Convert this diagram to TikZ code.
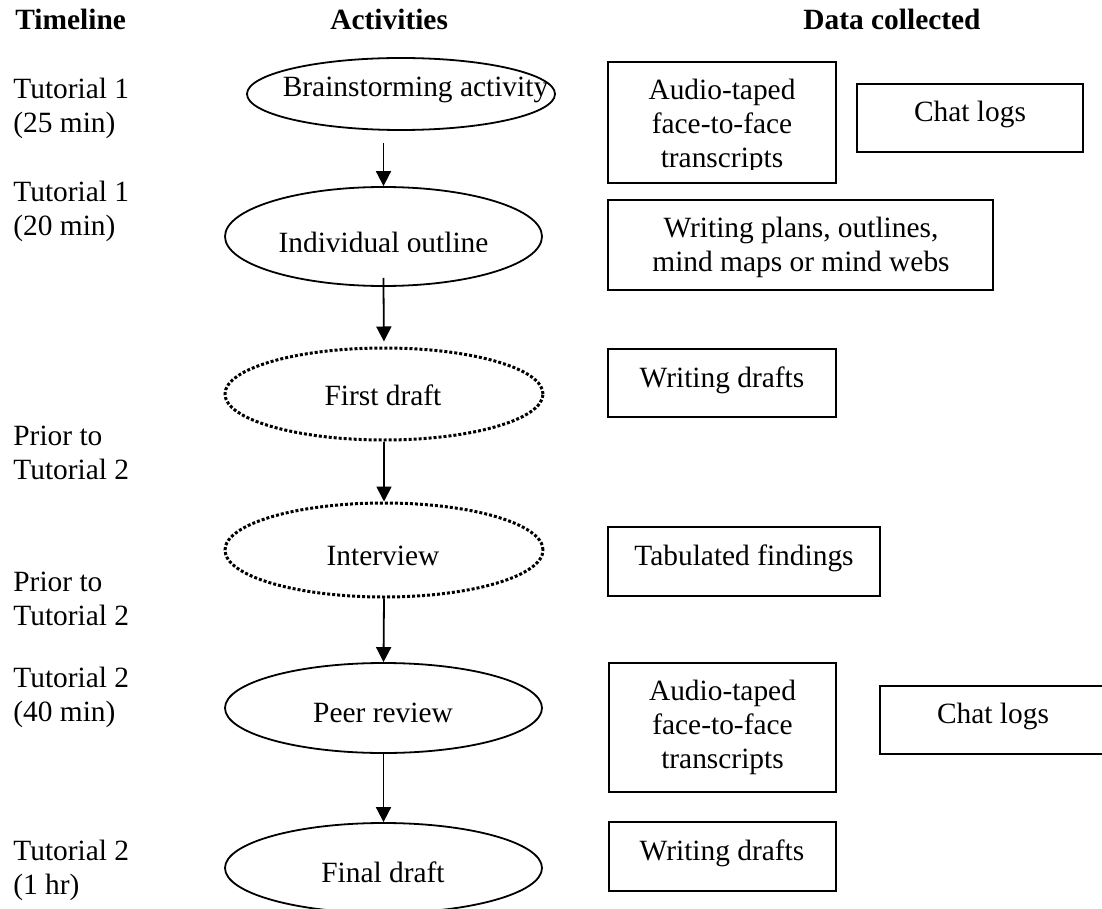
\documentclass[tikz,border=0pt]{standalone}
\usepackage{fontspec}
\setmainfont{Liberation Serif}
\usetikzlibrary{shapes.geometric,arrows.meta}

% stacked lines: first line's baseline is the node's baseline
\newcommand\stackL[1]{\begin{tabular}[t]{@{}l@{}}#1\end{tabular}}
\newcommand\stackC[1]{\begin{tabular}[t]{@{}c@{}}#1\end{tabular}}

\begin{document}
\begin{tikzpicture}[x=0.5pt,y=-0.5pt,
  every node/.style={font=\fontsize{14.7}{17}\selectfont},
  txt/.style={anchor=base, inner sep=0pt},
  ltxt/.style={anchor=base west, inner sep=0pt},
  head/.style={anchor=base west, inner sep=0pt, font=\fontsize{14.7}{17}\selectfont\bfseries},
  activity/.style={ellipse, draw, line width=0.9pt, inner sep=0pt},
  planned/.style={ellipse, draw, line width=1.5pt, dash pattern=on 1.5pt off 1pt, inner sep=0pt},
  databox/.style={rectangle, draw, line width=0.9pt, inner sep=0pt},
  flow/.style={line width=0.9pt, -{Triangle[length=7.5pt,width=7.5pt]}},
]
\useasboundingbox (0,0) rectangle (1102,909);
\clip (0,0) rectangle (1102,909);
\fill[white] (0,0) rectangle (1102,909);

% column headings
\node[head] (hTime) at (15,30) {Timeline};
\node[head] (hAct)  at (330,30) {Activities};
\node[head] (hData) at (803,30) {Data collected};

% timeline
\node[ltxt] (l1) at (13,99)  {\stackL{Tutorial 1\\(25 min)}};
\node[ltxt] (l2) at (13,202) {\stackL{Tutorial 1\\(20 min)}};
\node[ltxt] (l3) at (13,445) {\stackL{Prior to\\Tutorial 2}};
\node[ltxt] (l4) at (13,591) {\stackL{Prior to\\Tutorial 2}};
\node[ltxt] (l5) at (13,687) {\stackL{Tutorial 2\\(40 min)}};
\node[ltxt] (l6) at (13,860) {\stackL{Tutorial 2\\(1 hr)}};

% activities
\node[activity, minimum width=154pt,   minimum height=36pt]   (e1) at (401,94) {};
\node[activity, minimum width=158.5pt, minimum height=49.5pt] (e2) at (383.5,236.5) {};
\node[planned,  minimum width=159pt,   minimum height=46pt]   (e3) at (384,394) {};
\node[planned,  minimum width=159pt,   minimum height=47pt]   (e4) at (384,550) {};
\node[activity, minimum width=158.5pt, minimum height=45pt]   (e5) at (383.5,708) {};
\node[activity, minimum width=158.5pt, minimum height=45pt]   (e6) at (383.5,868) {};

\node[txt] (t1) at (415.5,97) {Brainstorming activity};
\begin{scope}
  \clip (220,200) rectangle (548,252);
  \node[txt] (t2) at (383.5,253) {Individual outline};
\end{scope}
\node[txt] (t3) at (383,405) {First draft};
\node[txt] (t4) at (383,565) {Interview};
\node[txt] (t5) at (383,722) {Peer review};
\node[txt] (t6) at (383,882) {Final draft};

\draw[flow, shorten <=6pt] (e1.south -| e2.north) -- (e2.north);
\draw[flow, shorten <=-4.5pt, shorten >=2.5pt] (e2.south) -- (e3.north);
\draw[flow] (e3.south) -- (e4.north);
\draw[flow] (e4.south) -- (e5.north);
\draw[flow] (e5.south) -- (e6.north);

% data collected
\node[databox, minimum width=114pt,   minimum height=60.5pt] (b1) at (722,122.5) {};
\node[databox, minimum width=113pt,   minimum height=34pt]   (b2) at (970,118) {};
\node[databox, minimum width=192.5pt, minimum height=45pt]   (b3) at (800.5,245) {};
\node[databox, minimum width=114pt,   minimum height=34pt]   (b4) at (722,383) {};
\node[databox, minimum width=136pt,   minimum height=34.5pt] (b5) at (744,561.5) {};
\node[databox, minimum width=113.5pt, minimum height=64.5pt] (b6) at (722.5,727.5) {};
\node[databox, minimum width=113pt,   minimum height=34pt]   (b7) at (993,720) {};
\node[databox, minimum width=113.5pt, minimum height=34.5pt] (b8) at (722.5,856.5) {};

\begin{scope}
  \clip (610,64) rectangle (834,170);
  \node[txt] (d1) at (722,100) {\stackC{Audio-taped\\face-to-face\\transcripts}};
\end{scope}
\node[txt] (d2) at (970,122) {Chat logs};
\node[txt] (d3) at (801,238) {\stackC{Writing plans, outlines,\\mind maps or mind webs}};
\node[txt] (d4) at (722,387) {Writing drafts};
\node[txt] (d5) at (744,565) {Tabulated findings};
\node[txt] (d6) at (722.5,700) {\stackC{Audio-taped\\face-to-face\\transcripts}};
\node[txt] (d7) at (993,723) {Chat logs};
\node[txt] (d8) at (722,860) {Writing drafts};
\end{tikzpicture}
\end{document}
